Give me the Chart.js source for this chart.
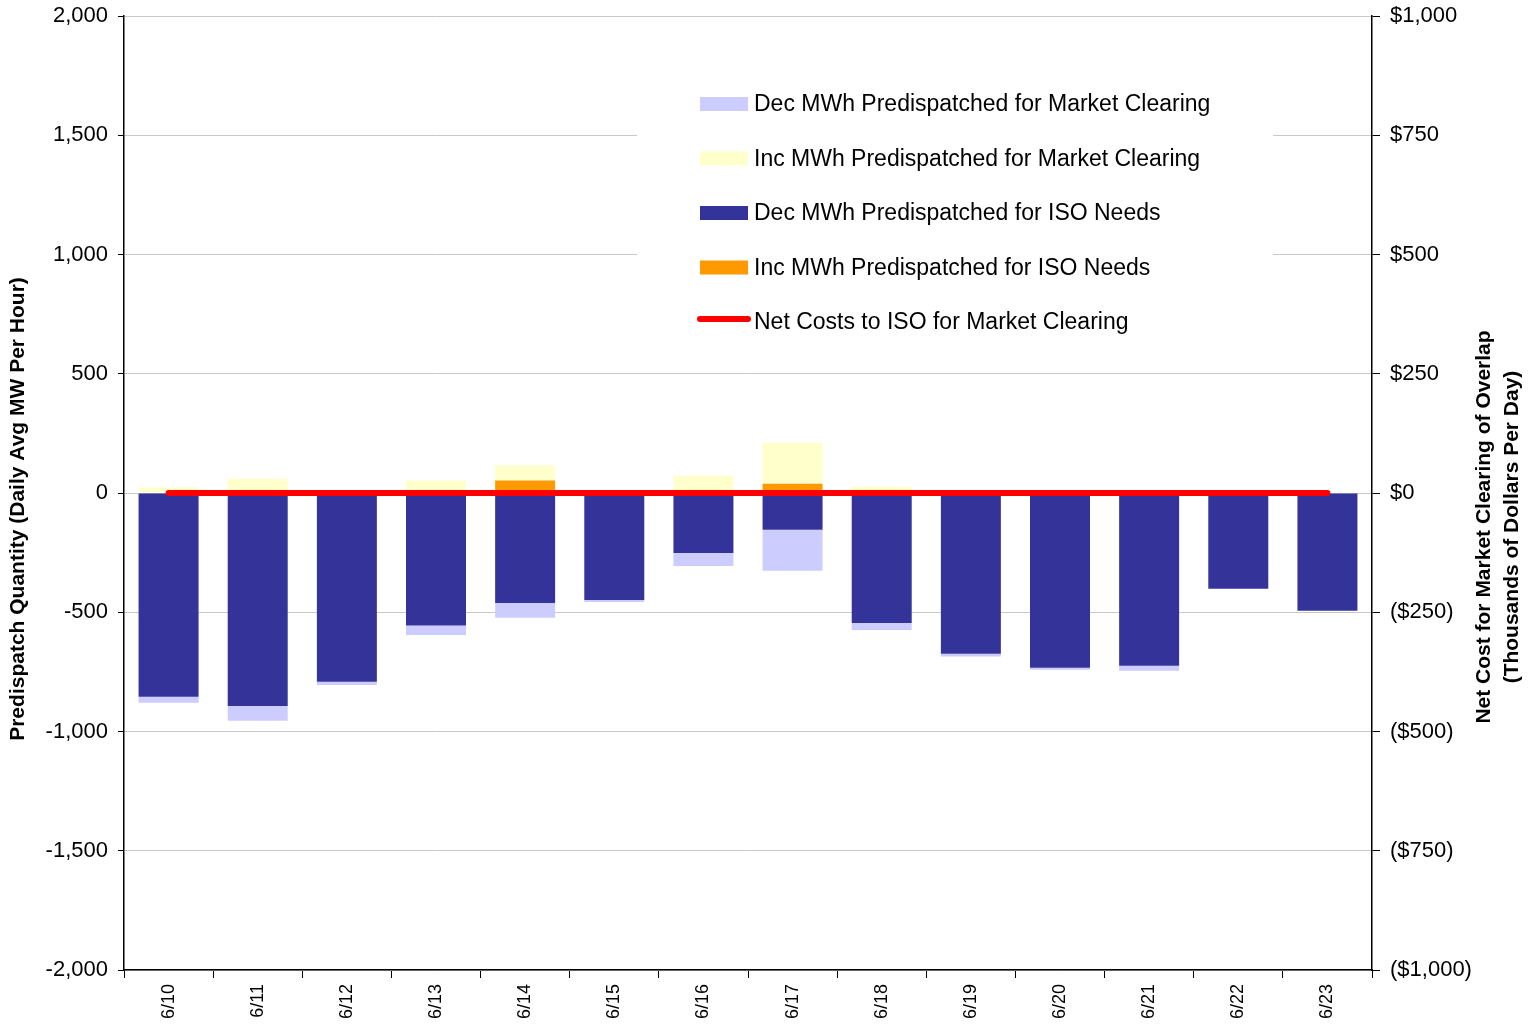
<!DOCTYPE html>
<html>
<head>
<meta charset="utf-8">
<script src="https://cdn.jsdelivr.net/npm/chart.js@4.4.1/dist/chart.umd.min.js"></script>
<style>
  html, body { margin: 0; padding: 0; background: #fff; }
  canvas { display: block; }
</style>
</head>
<body>
<canvas id="predispatchChart" width="1536" height="1028"></canvas>
<script>
// data
const dates = ['6/10', '6/11', '6/12', '6/13', '6/14', '6/15', '6/16', '6/17', '6/18', '6/19', '6/20', '6/21', '6/22', '6/23'];
const decIsoNeeds = [-854, -893, -791, -556, -461, -449, -252, -154, -545, -674, -733, -724, -401, -494];
const decMarketClearing = [-25, -62, -14, -39, -62, -8, -54, -172, -29, -12, -8, -21, 0, 0];
const incIsoNeeds = [0, 0, 0, 0, 52, 0, 12, 39, 0, 0, 0, 4, 0, 0];
const incMarketClearing = [23, 60, 0, 52, 64, 3, 61, 172, 26, 0, 0, 3, 0, 0];
const netCosts = [0, 0, 0, 0, 0, 0, 0, 0, 0, 0, 0, 0, 0, 0];

const leftTicks = [-2000, -1500, -1000, -500, 0, 500, 1000, 1500, 2000];
const rightTicks = [-1000, -750, -500, -250, 0, 250, 500, 750, 1000];

const FONT = "'Liberation Sans', Arial, sans-serif";
Chart.defaults.font.family = FONT;
Chart.defaults.color = '#000';

// legend is drawn by hand inside the plot, in the order of the original
const legendOrder = [1, 3, 0, 2, 4];

const sideStuff = {
    id: 'sideStuff',
    afterDatasetsDraw(chart) {
        const ctx = chart.ctx;
        ctx.save();
        // legend box
        ctx.fillStyle = '#fff';
        ctx.fillRect(637, 72, 636, 276);
        ctx.font = '23px ' + FONT;
        ctx.textBaseline = 'middle';
        ctx.textAlign = 'left';
        legendOrder.forEach((idx, i) => {
            const ds = chart.data.datasets[idx];
            const y = 104 + i * 54.5;
            if (ds.type === 'line') {
                ctx.strokeStyle = ds.borderColor;
                ctx.lineWidth = 6;
                ctx.lineCap = 'round';
                ctx.beginPath();
                ctx.moveTo(700, y - 3);
                ctx.lineTo(748, y - 3);
                ctx.stroke();
            } else {
                ctx.fillStyle = ds.backgroundColor;
                ctx.fillRect(700, y - 7, 48, 14);
            }
            ctx.fillStyle = '#000';
            ctx.fillText(ds.label, 754, y + 1);
        });

        // axis titles
        ctx.font = 'bold 21px ' + FONT;
        ctx.textAlign = 'center';
        ctx.textBaseline = 'middle';
        ctx.translate(18, 509);
        ctx.rotate(-Math.PI / 2);
        ctx.fillText('Predispatch Quantity (Daily Avg MW Per Hour)', 0, 0);
        ctx.restore();

        ctx.save();
        ctx.font = 'bold 21px ' + FONT;
        ctx.textAlign = 'center';
        ctx.textBaseline = 'middle';
        ctx.fillStyle = '#000';
        ctx.translate(1484, 527);
        ctx.rotate(-Math.PI / 2);
        ctx.fillText('Net Cost for Market Clearing of Overlap', 0, 0);
        ctx.fillText('(Thousands of Dollars Per Day)', 0, 28);
        ctx.restore();
    }
};

function dollars(v) {
    const s = '$' + Math.abs(v).toLocaleString('en-US');
    return v < 0 ? '(' + s + ')' : s;
}

function fixSide(width) {
    return s => {
        s.width = width;
        s.paddingTop = 0;
        s.paddingBottom = 0;
    };
}

const ctx = document.getElementById('predispatchChart').getContext('2d');
const chart = new Chart(ctx, {
    type: 'bar',
    data: {
        labels: dates,
        datasets: [{
            label: 'Dec MWh Predispatched for ISO Needs',
            data: decIsoNeeds,
            backgroundColor: '#333399',
            yAxisID: 'y'
        }, {
            label: 'Dec MWh Predispatched for Market Clearing',
            data: decMarketClearing,
            backgroundColor: '#CCCCFF',
            yAxisID: 'y'
        }, {
            label: 'Inc MWh Predispatched for ISO Needs',
            data: incIsoNeeds,
            backgroundColor: '#FF9900',
            yAxisID: 'y'
        }, {
            label: 'Inc MWh Predispatched for Market Clearing',
            data: incMarketClearing,
            backgroundColor: '#FFFFCC',
            yAxisID: 'y'
        }, {
            type: 'line',
            label: 'Net Costs to ISO for Market Clearing',
            data: netCosts,
            borderColor: '#FF0000',
            borderWidth: 6,
            borderCapStyle: 'round',
            pointRadius: 0,
            fill: false,
            yAxisID: 'y2',
            order: -1
        }]
    },
    options: {
        responsive: false,
        animation: false,
        layout: { padding: { top: 16 } },
        datasets: {
            bar: { barPercentage: 0.673, categoryPercentage: 1.0 }
        },
        plugins: {
            legend: { display: false },
            tooltip: { enabled: false }
        },
        scales: {
            x: {
                stacked: true,
                grid: { display: true, drawOnChartArea: false, offset: true, tickLength: 8, tickColor: '#000' },
                border: { color: '#000', width: 1.5 },
                ticks: { minRotation: 90, maxRotation: 90, padding: 6, font: { size: 18 } },
                afterFit: s => { s.height = 58; }
            },
            y: {
                stacked: true,
                position: 'left',
                min: -2000,
                max: 2000,
                afterBuildTicks: s => { s.ticks = leftTicks.map(v => ({ value: v })); },
                grid: { color: '#c8c8c8', tickLength: 6, tickColor: '#000' },
                border: { color: '#000', width: 1.5 },
                ticks: {
                    padding: 10,
                    font: { size: 22 },
                    callback: v => v.toLocaleString('en-US')
                },
                afterFit: fixSide(124)
            },
            y2: {
                position: 'right',
                min: -1000,
                max: 1000,
                afterBuildTicks: s => { s.ticks = rightTicks.map(v => ({ value: v })); },
                grid: { drawOnChartArea: false, tickLength: 8, tickColor: '#000' },
                border: { color: '#000', width: 1.5 },
                ticks: {
                    padding: 10,
                    font: { size: 22 },
                    callback: v => dollars(v)
                },
                afterFit: fixSide(164)
            }
        }
    },
    plugins: [sideStuff]
});
</script>
</body>
</html>
